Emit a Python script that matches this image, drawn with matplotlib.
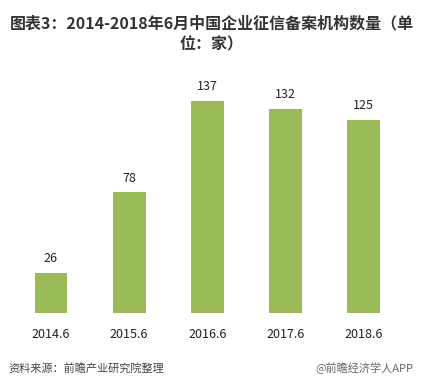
import matplotlib.pyplot as plt

plt.rcParams['font.family'] = ['Noto Sans CJK SC', 'DejaVu Sans']

years = ['2014.6', '2015.6', '2016.6', '2017.6', '2018.6']
counts = [26, 78, 137, 132, 125]

fig = plt.figure(figsize=(4.24, 3.88), dpi=100)
ax = fig.add_axes([0.028, 0.193, 0.922, 0.638])

x = range(len(years))
ax.bar(x, counts, width=0.42, color='#9bbb59')
for i, v in zip(x, counts):
    ax.text(i, v + 5, str(v), ha='center', va='bottom', fontsize=9, color='#222222')

ax.set_xlim(-0.5, 4.5)
ax.set_ylim(0, 160)
ax.set_xticks(list(x))
ax.set_xticklabels(years, fontsize=9, color='#222222')
ax.tick_params(axis='x', length=0, pad=11)
ax.set_yticks([])
for s in ax.spines.values():
    s.set_visible(False)

fig.text(0.5, 0.96, '图表3：2014-2018年6月中国企业征信备案机构数量（单\n位：家）',
         ha='center', va='top', fontsize=11.5, fontweight='bold', color='#333333',
         linespacing=1.4)

fig.text(0.02, 0.05, '资料来源：前瞻产业研究院整理', ha='left', va='center',
         fontsize=8, style='italic', color='#444444')
fig.text(0.975, 0.05, '@前瞻经济学人APP', ha='right', va='center',
         fontsize=8, color='#666666')

fig.savefig('out.png', dpi=100)
